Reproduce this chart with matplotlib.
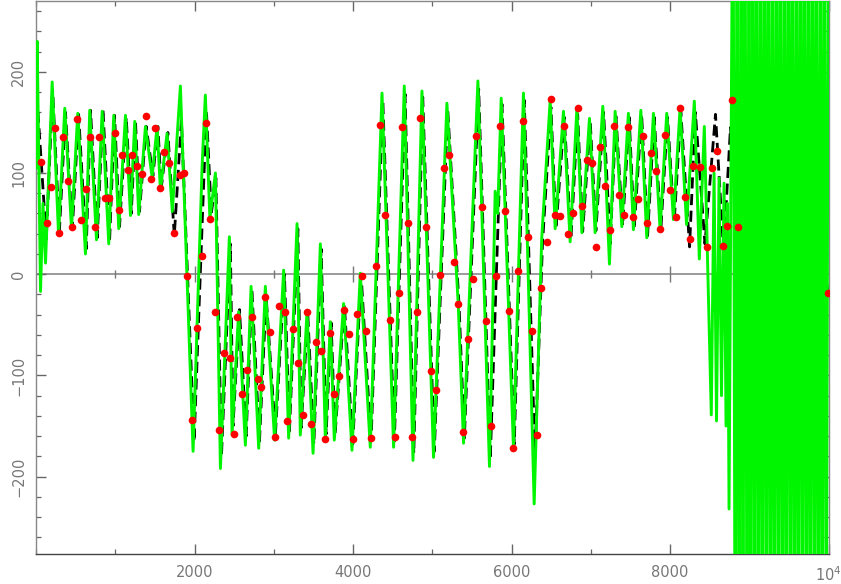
import matplotlib
matplotlib.use("Agg")
import matplotlib.pyplot as plt
from matplotlib.ticker import MultipleLocator, FixedLocator, FixedFormatter

# green curve: turning points
green_x = [0, 15, 57, 88, 120, 204, 284, 363, 448, 527, 624, 678, 763, 835, 918, 981,
           1044, 1129, 1192, 1246, 1296, 1381, 1465, 1528, 1570, 1654, 1720, 1822, 1982,
           2096, 2137, 2194, 2264, 2327, 2440, 2474, 2557, 2642, 2714, 2810, 2894, 3011,
           3125, 3188, 3294, 3335, 3420, 3496, 3588, 3651, 3714, 3764, 3881, 3987, 4092,
           4218, 4366, 4512, 4647, 4757, 4870, 5016, 5185, 5328, 5395, 5576, 5722, 5794,
           5826, 5870, 6025, 6151, 6286, 6381, 6488, 6551, 6656, 6740, 6825, 6888, 6984,
           7055, 7152, 7236, 7308, 7392, 7475, 7538, 7632, 7707, 7791, 7875, 7959, 8043,
           8127, 8209, 8307, 8370, 8433, 8521, 8556, 8587, 8619, 8650, 8682, 8707, 8725,
           8745,
           8795, 8822, 8846, 8871, 8897, 8921, 8946, 8972, 8997, 9021, 9047, 9072, 9096,
           9122, 9147, 9171, 9197, 9222, 9246, 9272, 9297, 9321, 9347, 9372, 9396, 9422,
           9447, 9471, 9497, 9522, 9546, 9572, 9597, 9621, 9647, 9672, 9696, 9722, 9747,
           9771, 9797, 9822, 9846, 9872, 9897, 9921, 9947, 9972, 10000]
green_y = [105, 230, -17, 70, 11, 190, 40, 164, 45, 159, 20, 162, 34, 161, 30, 157,
           45, 157, 58, 151, 59, 146, 96, 146, 83, 139, 62, 186, -175,
           107, 177, 55, 100, -192, 37, -159, -37, -169, -12, -172, -12, -164,
           4, -162, 50, -159, -37, -177, 30, -163, -47, -164, -29, -174, 1,
           -171, 179, -171, 186, -184, 181, -181, 169, -30, -167, 191, -190, 82,
           60, 174, -172, 179, -227, 35, 172, 45, 161, 32, 164, 41, 154,
           41, 166, 10, 161, 47, 159, 44, 162, 36, 159, 44, 159, 54,
           164, 49, 171, 15, 146, -139, 100, -145, 95, -120, 90, -150, 70,
           -232,
           450, -440, 430, -455, 445, -430, 450, -445, 440, -450, 435, -440, 455,
           -430, 445, -450, 440, -445, 450, -435, 440, -455, 430, -440, 450, -445,
           435, -450, 445, -430, 440, -455, 450, -440, 430, -445, 455, -435, 440,
           -450, 445, -440, 430, -455, 450, -445, 440, -430, 445]

# black dashed curve
black_x = [0, 25, 130, 210, 295, 372, 458, 538, 634, 688, 773, 845, 928, 991, 1054,
           1139, 1202, 1256, 1306, 1391, 1475, 1538, 1580, 1664, 1745, 1835, 1995, 2150,
           2212, 2270, 2340, 2452, 2486, 2568, 2652, 2724, 2820, 2904, 3021, 3135, 3198,
           3304, 3345, 3430, 3506, 3598, 3661, 3724, 3774, 3891, 3997, 4102, 4228, 4376,
           4522, 4657, 4767, 4880, 5026, 5195, 5338, 5405, 5586, 5732, 5880, 6035, 6161,
           6296, 6391, 6498, 6561, 6666, 6750, 6835, 6898, 6994, 7065, 7162, 7246, 7318,
           7402, 7485, 7548, 7642, 7717, 7801, 7885, 7969, 8053, 8137, 8247, 8320, 8441,
           8574, 8676, 8763, 8865, 8980, 9100, 9230, 9360, 9490, 9620, 9750, 9880, 10000]
black_y = [110, 160, 35, 182, 42, 160, 45, 158, 25, 162, 36, 163, 32, 157, 47,
           155, 60, 150, 62, 146, 97, 146, 85, 140, 38, 152, -165, 162,
           60, 95, -180, 30, -150, -35, -160, -15, -165, -22, -158, 0, -155,
           45, -152, -40, -168, 25, -158, -48, -158, -30, -168, 0, -165, 172,
           -165, 178, -177, 175, -175, 163, -30, -162, 183, -183, 168, -168, 172,
           -180, 30, 165, 45, 155, 35, 158, 42, 150, 43, 160, 30, 156,
           48, 155, 45, 158, 38, 155, 45, 155, 52, 160, 27, 160, 30,
           158, 22, 145, 30, 150, 35, 150, 35, 150, 35, 150, 30, -19]

# red sample points
red_x = [57, 141, 192, 246, 293, 343, 406, 456, 520, 574, 637, 687, 750, 801, 868, 918,
         994, 1044, 1087, 1158, 1213, 1276, 1339, 1393, 1453, 1507, 1570, 1620, 1683,
         1738, 1813, 1864, 1907, 1970, 2033, 2096, 2150, 2200, 2255, 2314, 2368, 2444,
         2494, 2541, 2600, 2663, 2730, 2797, 2840, 2894, 2948, 3011, 3062, 3137, 3168,
         3243, 3306, 3369, 3420, 3474, 3537, 3596, 3651, 3714, 3760, 3827, 3881, 3953,
         4000, 4050, 4117, 4168, 4227, 4294, 4344, 4398, 4461, 4524, 4575, 4618, 4693,
         4748, 4811, 4849, 4924, 4988, 5044, 5101, 5151, 5214, 5269, 5331, 5387, 5445,
         5508, 5551, 5627, 5681, 5744, 5803, 5857, 5912, 5971, 6025, 6088, 6139, 6202,
         6261, 6328, 6378, 6446, 6498, 6551, 6608, 6667, 6719, 6782, 6835, 6888, 6951,
         7014, 7068, 7119, 7182, 7245, 7299, 7362, 7421, 7475, 7538, 7594, 7665, 7715,
         7762, 7821, 7875, 7938, 7995, 8071, 8127, 8184, 8253, 8295, 8383, 8462, 8533,
         8590, 8665, 8721, 8780, 8856, 9997]
red_y = [111, 51, 86, 144, 41, 136, 92, 47, 153, 54, 84, 136, 47, 136, 75, 75,
         140, 63, 118, 103, 118, 107, 99, 156, 94, 144, 85, 121, 110,
         41, 98, 100, -2, -144, -53, 18, 149, 55, -37, -154, -78, -83,
         -158, -42, -118, -95, -42, -104, -111, -23, -57, -161, -31, -37, -145,
         -54, -88, -139, -37, -148, -67, -76, -163, -58, -118, -101, -35, -59,
         -163, -39, -2, -56, -162, 8, 147, 59, -45, -161, -19, 145, 51,
         -161, -37, 154, 47, -96, -114, -1, 105, 118, 12, -29, -156, -64,
         -5, 137, 66, -46, -150, -2, 146, 62, -36, -172, 3, 151, 37,
         -56, -159, -14, 32, 173, 59, 58, 146, 40, 60, 164, 67, 113,
         110, 27, 126, 87, 44, 146, 78, 59, 145, 57, 74, 137, 51,
         120, 102, 45, 138, 83, 57, 164, 76, 35, 107, 106, 27, 105,
         122, 28, 48, 172, 47, -19]

x_ticks = [2000, 4000, 6000, 8000, 10000]
x_tick_labels = ["2000", "4000", "6000", "8000", r"$10^4$"]
y_ticks = [-200, -100, 0, 100, 200]
y_tick_labels = ["\u2212200", "\u2212100", "0", "100", "200"]
zero_minor = [1000, 3000, 5000, 7000, 9000]
zero_major = [2000, 4000, 6000, 8000]

plt.rcParams["mathtext.default"] = "regular"
fig = plt.figure(figsize=(8.41, 5.84), dpi=100)
ax = fig.add_axes([36 / 841, 30 / 584, 792.5 / 841, 553 / 584])

# zero line with its own little ticks
ax.axhline(0, color="#8a8a8a", lw=1.2, zorder=1)
ax.plot(zero_minor, [0] * len(zero_minor), ls="none", marker="|", ms=6, mew=1.0,
        color="#777777", zorder=1)
ax.plot(zero_major, [0] * len(zero_major), ls="none", marker="|", ms=11, mew=1.0,
        color="#777777", zorder=1)

ax.plot(black_x, black_y, color="black", lw=2.0, dashes=(4, 2), zorder=2)
ax.plot(green_x, green_y, color="#00f500", lw=2.1, zorder=3)
ax.plot(red_x, red_y, ls="none", marker="o", ms=5.5, color="#ff0000", mec="none", zorder=4)

ax.set_xlim(0, 10000)
ax.set_ylim(-276.5, 270)

ax.xaxis.set_major_locator(FixedLocator(x_ticks))
ax.xaxis.set_major_formatter(FixedFormatter(x_tick_labels))
ax.xaxis.set_minor_locator(MultipleLocator(1000))
ax.yaxis.set_major_locator(FixedLocator(y_ticks))
ax.yaxis.set_major_formatter(FixedFormatter(y_tick_labels))
ax.yaxis.set_minor_locator(MultipleLocator(20))

ax.tick_params(which="both", direction="in", top=True, right=True, colors="#666666")
ax.tick_params(which="major", length=7, width=1.0, labelsize=10.5, labelcolor="#777777")
ax.tick_params(which="minor", length=3.5, width=0.9)
ax.tick_params(axis="x", pad=8)
ax.tick_params(axis="y", pad=7)
for lab in ax.get_yticklabels():
    lab.set_rotation(90)
    lab.set_va("center")

ax.spines["left"].set_color("#888888")
ax.spines["bottom"].set_color("#444444")
ax.spines["top"].set_color("#888888")
ax.spines["right"].set_color("#888888")
for s in ax.spines.values():
    s.set_linewidth(1.0)

fig.savefig("out.png", dpi=100)
